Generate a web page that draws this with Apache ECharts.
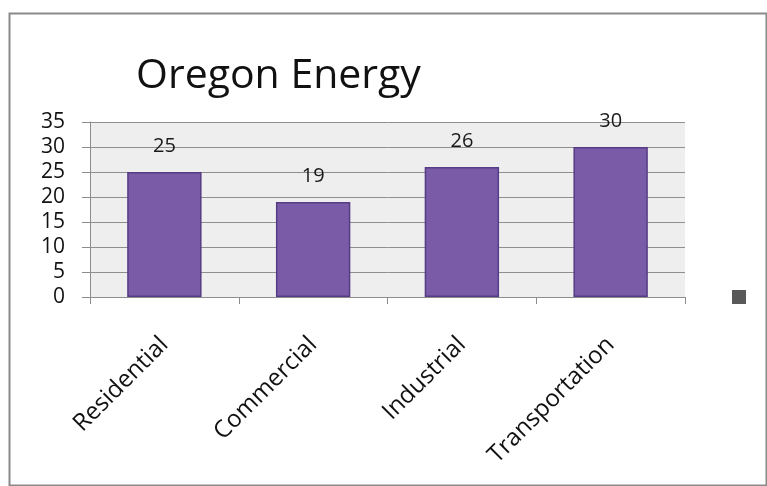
<!DOCTYPE html>
<html>
<head>
<meta charset="utf-8">
<script src="https://cdn.jsdelivr.net/npm/echarts@6/dist/echarts.min.js"></script>
<style>
  html, body { margin: 0; padding: 0; background: #ffffff; }
  #chart { width: 767px; height: 486px; }
</style>
</head>
<body>
<div id="chart"></div>
<script>
// Energy use by sector
const titleText = 'Oregon Energy';
const categories = ['Residential', 'Commercial', 'Industrial', 'Transportation'];
const values = [25, 19, 26, 30];
const yTicks = [0, 5, 10, 15, 20, 25, 30, 35];

const font = '"Open Sans", "Liberation Sans", sans-serif';

const chart = echarts.init(document.getElementById('chart'), null, { renderer: 'canvas' });

chart.setOption({
  backgroundColor: '#ffffff',
  animation: false,
  title: {
    text: titleText,
    left: 131,
    top: 51,
    textStyle: { fontFamily: font, fontSize: 41, fontWeight: 'normal', color: '#111111' }
  },
  legend: {
    data: [{ name: ' ', itemStyle: { color: '#595959', borderWidth: 0 } }],
    left: 727,
    top: 285,
    itemWidth: 14,
    itemHeight: 14,
    icon: 'rect',
    textStyle: { fontSize: 1, color: 'rgba(0,0,0,0)' }
  },
  grid: {
    left: 90,
    right: 82,
    top: 122,
    bottom: 189,
    show: true,
    backgroundColor: '#eeeeee',
    borderWidth: 0
  },
  xAxis: {
    type: 'category',
    data: categories,
    boundaryGap: true,
    axisLine: { show: true, lineStyle: { color: '#8c8c8c', width: 1 } },
    axisTick: { show: true, length: 7, alignWithLabel: false, lineStyle: { color: '#8c8c8c' } },
    axisLabel: {
      rotate: 45,
      margin: 44,
      fontFamily: font,
      fontSize: 24,
      color: '#111111'
    }
  },
  yAxis: {
    type: 'value',
    min: yTicks[0],
    max: yTicks[yTicks.length - 1],
    interval: 5,
    axisLine: { show: true, lineStyle: { color: '#8c8c8c', width: 1 } },
    axisTick: { show: true, length: 8, lineStyle: { color: '#8c8c8c' } },
    axisLabel: {
      margin: 25,
      fontFamily: font,
      fontSize: 21,
      color: '#111111'
    },
    splitLine: { show: true, lineStyle: { color: '#8f8f8f', width: 1 } }
  },
  series: [{
    name: ' ',
    type: 'bar',
    data: values,
    barWidth: '50%',
    itemStyle: {
      color: '#7a5ba8',
      borderColor: '#553c85',
      borderWidth: 1.5
    },
    label: {
      show: true,
      position: 'top',
      distance: 16,
      fontFamily: font,
      fontSize: 20,
      color: '#1a1a1a'
    }
  }],
  graphic: [{
    type: 'rect',
    left: 7,
    top: 11,
    shape: { width: 757, height: 472 },
    style: { fill: 'none', stroke: '#8a8a8a', lineWidth: 2 },
    silent: true,
    z: 100
  }]
});
</script>
</body>
</html>
